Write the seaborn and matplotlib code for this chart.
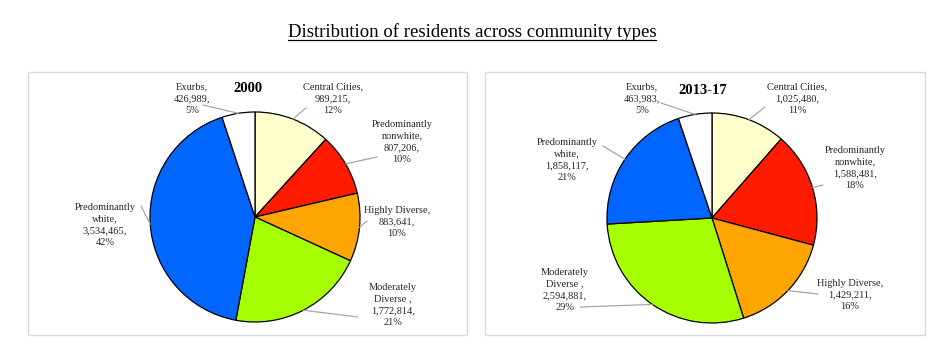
import matplotlib
matplotlib.use("Agg")
import matplotlib.pyplot as plt
import seaborn as sns
import numpy as np
from matplotlib.patches import Rectangle

# ---- data ----
categories = ["Central Cities", "Predominantly nonwhite", "Highly Diverse",
              "Moderately Diverse", "Predominantly white", "Exurbs"]
label_names = ["Central Cities,", "Predominantly\nnonwhite,", "Highly Diverse,",
               "Moderately\nDiverse ,", "Predominantly\nwhite,", "Exurbs,"]
values_2000 = [989215, 807206, 883641, 1772814, 3534465, 426989]
pct_2000 = [12, 10, 10, 21, 42, 5]
values_2017 = [1025480, 1588481, 1429211, 2594881, 1858117, 463983]
pct_2017 = [11, 18, 16, 29, 21, 5]
panel_titles = ["2000", "2013-17"]
main_title = "Distribution of residents across community types"

colors = ["#FFFFCC", "#FF1A00", "#FFA500", "#A6FF00", "#0066FF", "#FFFFFF"]

sns.set_theme(style="white")
plt.rcParams["font.family"] = ["Liberation Serif", "DejaVu Serif"]

W, H = 945, 349
fig = plt.figure(figsize=(W / 100, H / 100), dpi=100)
ax = fig.add_axes([0, 0, 1, 1])

def Y(y):
    return H - y

# panel layouts (pixel coords from top-left)
panels = [
    dict(values=values_2000, pct=pct_2000, title=panel_titles[0],
         box=(28, 72, 467, 335), center=(255, 217), r=105, title_pos=(248, 89),
         label_pos=[(333, 99), (402, 142), (397, 222), (393, 305), (105, 225), (192, 99)],
         anchors=[(306, 108), (377, 157), (367, 221), (358, 317), (141, 206), (203, 105)]),
    dict(values=values_2017, pct=pct_2017, title=panel_titles[1],
         box=(485, 72, 925, 335), center=(712, 218), r=105, title_pos=(703, 90),
         label_pos=[(797, 99), (855, 168), (850, 295), (565, 290), (567, 160), (642, 99)],
         anchors=[(765, 107), (823, 185), (818, 294), (580, 307), (603, 146), (661, 103)]),
]

for p in panels:
    x0, y0, x1, y1 = p["box"]
    ax.add_patch(Rectangle((x0, Y(y1)), x1 - x0, y1 - y0, fill=False,
                           edgecolor="#D9D9D9", linewidth=1.0))
    cx, cy = p["center"]
    wedges, _ = ax.pie(p["values"], colors=colors, startangle=90, counterclock=False,
                       center=(cx, Y(cy)), radius=p["r"],
                       wedgeprops=dict(edgecolor="black", linewidth=0.9))
    ax.text(p["title_pos"][0], Y(p["title_pos"][1]), p["title"], ha="center",
            va="center", fontsize=10.5, fontweight="bold", color="black")
    for i, w in enumerate(wedges):
        mid = np.deg2rad((w.theta1 + w.theta2) / 2)
        ex = cx + p["r"] * np.cos(mid)
        ey = Y(cy) + p["r"] * np.sin(mid)
        axx, ayy = p["anchors"][i]
        ax.plot([ex, axx], [ey, Y(ayy)], color="#A6A6A6", lw=0.9, zorder=1)
        txt = f"{label_names[i]}\n{p['values'][i]:,},\n{p['pct'][i]}%"
        lx, ly = p["label_pos"][i]
        ax.text(lx, Y(ly), txt, ha="center", va="center", multialignment="center",
                fontsize=7.5, linespacing=1.4, color="#262626", zorder=3)

ax.set_xlim(0, W)
ax.set_ylim(0, H)
ax.set_aspect("equal")
ax.axis("off")

t = ax.text(472, Y(32), main_title, ha="center", va="center", fontsize=13.5, color="black")
fig.canvas.draw()
bb = t.get_window_extent(renderer=fig.canvas.get_renderer())
ax.plot([bb.x0, bb.x1], [bb.y0 + 1, bb.y0 + 1], color="black", lw=0.9)

fig.savefig("out.png", dpi=100, facecolor="white")
